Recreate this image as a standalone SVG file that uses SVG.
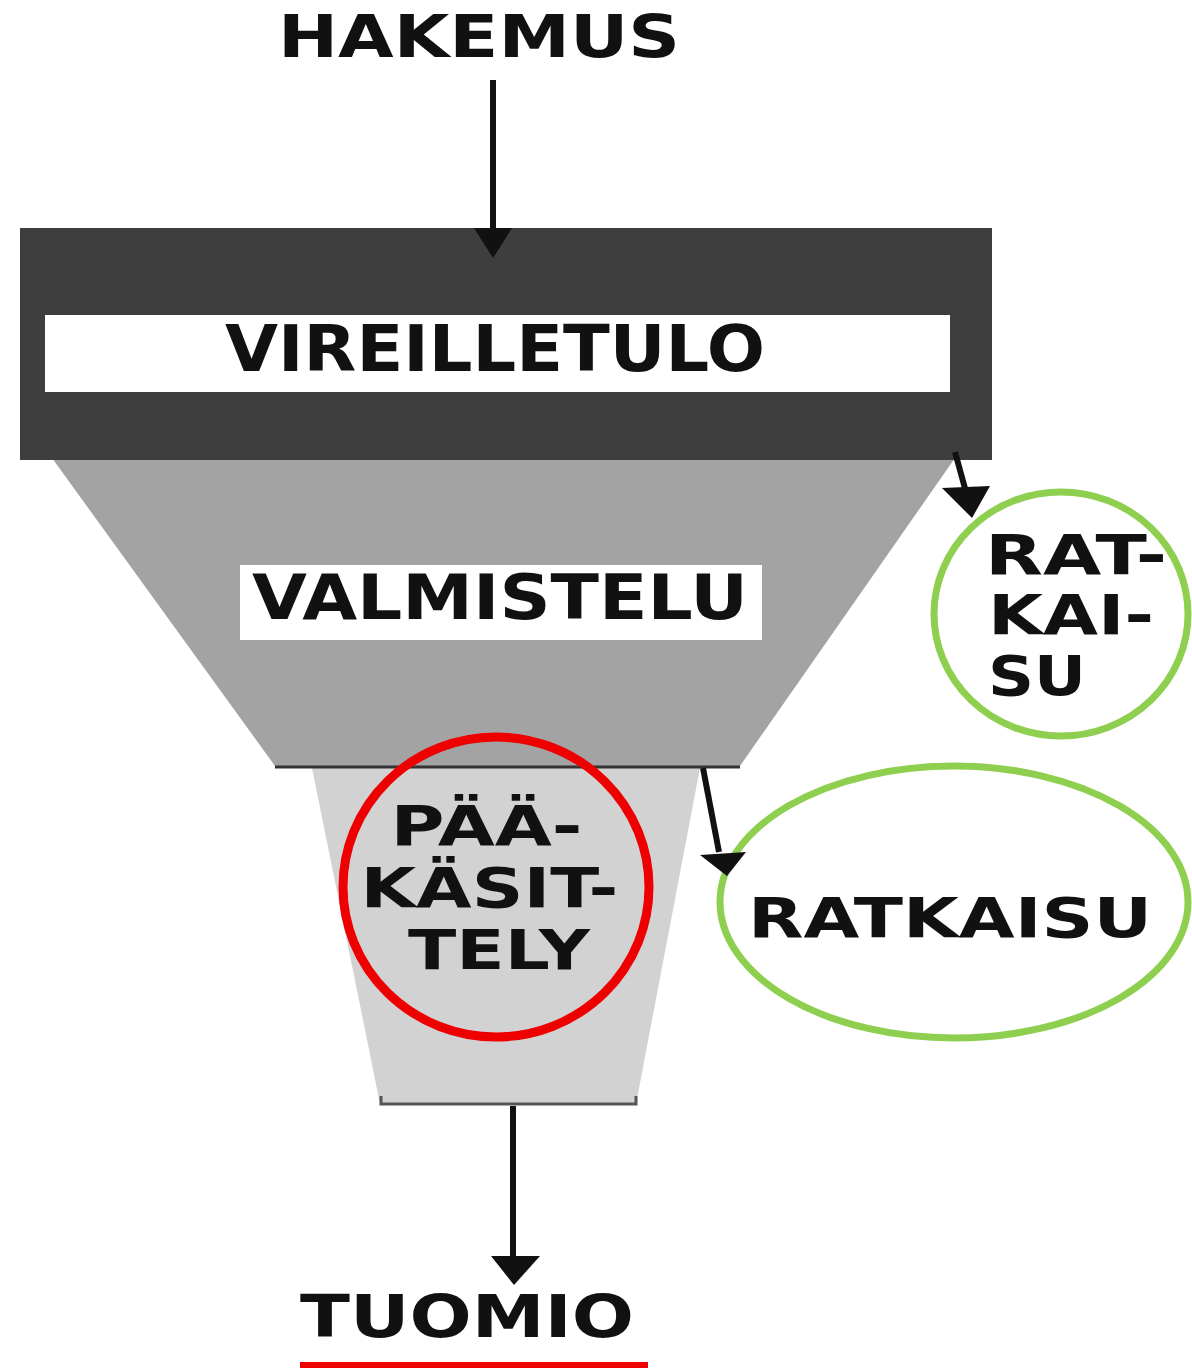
<svg xmlns="http://www.w3.org/2000/svg" width="1192" height="1368" viewBox="0 0 1192 1368">
<defs>
<style>
.t{font-family:"DejaVu Sans","Liberation Sans",sans-serif;font-weight:bold;fill:#111;}
.ln{stroke:#111;stroke-width:6;fill:none;}
</style>
</defs>
<rect width="1192" height="1368" fill="#fff"/>

<g id="hakemus">
<text class="t" x="479" y="57" font-size="58" text-anchor="middle" textLength="402" lengthAdjust="spacingAndGlyphs">HAKEMUS</text>
</g>

<g id="paakasittely">
<polygon points="312,768 700,768 636,1104 380,1104" fill="#d2d2d2"/>
<polyline points="381,1096 381,1104 636,1104 636,1096" fill="none" stroke="#555" stroke-width="3"/>
<text class="t" font-size="55" text-anchor="middle">
<tspan x="496" y="845" textLength="192" lengthAdjust="spacingAndGlyphs">PÄÄ-</tspan>
<tspan x="499" y="907" textLength="258" lengthAdjust="spacingAndGlyphs">KÄSIT-</tspan>
<tspan x="499" y="969" textLength="182" lengthAdjust="spacingAndGlyphs">TELY</tspan>
</text>
</g>

<g id="valmistelu">
<polygon points="52,458 955,458 740,766 275,766" fill="#a3a3a3"/>
<line x1="275" y1="767" x2="740" y2="767" stroke="#333" stroke-width="3"/>
<rect x="240" y="565" width="522" height="75" fill="#fff"/>
<text class="t" x="500" y="619" font-size="62" text-anchor="middle" textLength="496" lengthAdjust="spacingAndGlyphs">VALMISTELU</text>
</g>

<g id="vireilletulo">
<rect x="20" y="228" width="972" height="232" fill="#3e3e3e"/>
<rect x="45" y="315" width="905" height="77" fill="#fff"/>
<text class="t" x="495" y="371" font-size="64" text-anchor="middle" textLength="540" lengthAdjust="spacingAndGlyphs">VIREILLETULO</text>
</g>

<g id="ratkaisu1">
<ellipse cx="1061" cy="614" rx="127" ry="122" fill="none" stroke="#8ecf4f" stroke-width="7"/>
<text class="t" font-size="55">
<tspan x="985" y="574" textLength="182" lengthAdjust="spacingAndGlyphs">RAT-</tspan>
<tspan x="988" y="634" textLength="166" lengthAdjust="spacingAndGlyphs">KAI-</tspan>
<tspan x="988" y="695" textLength="98" lengthAdjust="spacingAndGlyphs">SU</tspan>
</text>
</g>

<g id="ratkaisu2">
<ellipse cx="954" cy="902" rx="234" ry="136" fill="none" stroke="#8ecf4f" stroke-width="7"/>
<text class="t" x="748" y="937" font-size="55" textLength="404" lengthAdjust="spacingAndGlyphs">RATKAISU</text>
</g>

<g id="paakasittely-ring">
<ellipse cx="496" cy="887" rx="153" ry="150" fill="none" stroke="#ee0000" stroke-width="9"/>
</g>

<g id="tuomio">
<text class="t" x="467" y="1337" font-size="59" text-anchor="middle" textLength="334" lengthAdjust="spacingAndGlyphs">TUOMIO</text>
<rect x="300" y="1362" width="348" height="6" fill="#ee0000"/>
</g>

<g id="connectors">
<line class="ln" x1="493" y1="80" x2="493" y2="228"/>
<path d="M474,228 L512,228 L493,258 Z" fill="#111"/>
<line class="ln" x1="955" y1="452" x2="966" y2="492"/>
<path d="M942,488 L990,486 L972,518 Z" fill="#111"/>
<line class="ln" x1="703" y1="768" x2="719" y2="852"/>
<path d="M700,855 L746,852 L727,876 Z" fill="#111"/>
<line class="ln" x1="513" y1="1106" x2="513" y2="1258"/>
<path d="M491,1256 L540,1256 L514,1285 Z" fill="#111"/>
</g>
</svg>
